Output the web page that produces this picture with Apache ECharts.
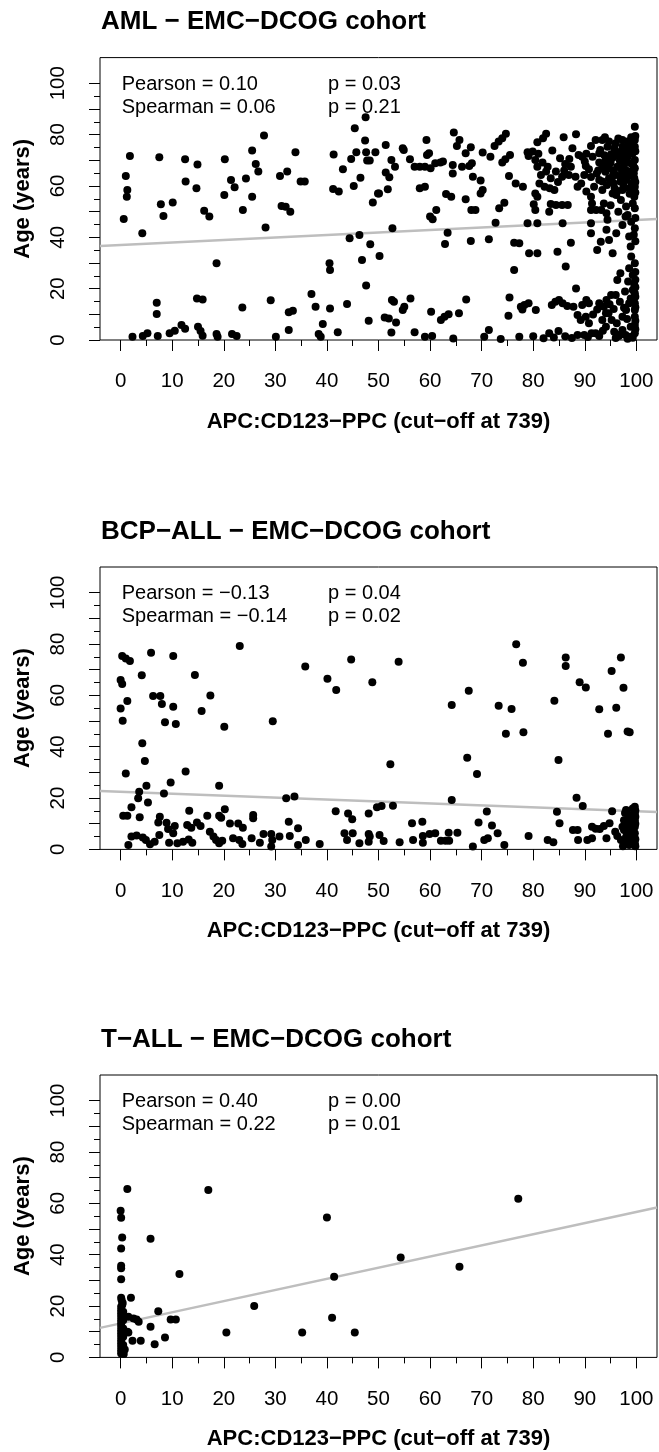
<!DOCTYPE html>
<html>
<head>
<meta charset="utf-8">
<script src="https://cdn.jsdelivr.net/npm/echarts@6/dist/echarts.min.js"></script>
<style>
html,body{margin:0;padding:0;background:#fff;}
#chart{width:659px;height:1452px;}
#log{position:absolute;left:0;top:0;font:12px monospace;white-space:pre-wrap;width:659px;color:red;}
</style>
</head>
<body>
<div id="chart"></div>
<pre id="log"></pre>
<script>
// ---------------- data ----------------
var panelTitles = ['AML \u2212 EMC\u2212DCOG cohort', 'BCP\u2212ALL \u2212 EMC\u2212DCOG cohort', 'T\u2212ALL \u2212 EMC\u2212DCOG cohort'];
var xAxisTitle = 'APC:CD123\u2212PPC (cut\u2212off at 739)';
var yAxisTitle = 'Age (years)';
var statLeft = [
  ['Pearson = 0.10', 'Spearman = 0.06'],
  ['Pearson = \u22120.13', 'Spearman = \u22120.14'],
  ['Pearson = 0.40', 'Spearman = 0.22']
];
var statRight = [
  ['p = 0.03', 'p = 0.21'],
  ['p = 0.04', 'p = 0.02'],
  ['p = 0.00', 'p = 0.01']
];
var xMajorTicks = [0,10,20,30,40,50,60,70,80,90,100];
var xMinorTicks = [5,15,25,35,45,55,65,75,85,95];
var yMajorTicks = [0,10,20,30,40,50,60,70,80,90,100];
var yMinorTicks = [5,15,25,35,45,55,65,75,85,95];
var yTickLabels = [0,20,40,60,80,100];

var amlFit = [[-4, 36.6], [104, 47.1]];
var bcpFit = [[-4, 22.7], [104, 14.6]];
var tallFit = [[-4, 11.5], [104, 58.4]];

var amlPoints = [
[1.8,71.7],[1.0,63.9],[1.3,58.4],[1.2,55.8],[0.6,47.1],[4.2,41.6],[7.5,71.2],[7.8,52.9],[8.3,48.3],[10.1,53.6],[12.5,70.4],[12.6,61.7],[14.7,59.1],[14.9,68.4],[16.2,50.3],[17.2,48.1],[20.2,70.4],[20.1,56.5],[21.4,62.3],[22.1,59.5],[23.7,50.6],[24.3,62.9],[25.5,73.8],[26.2,68.6],[26.7,65.6],[25.5,55.8],[27.8,79.7],[28.1,43.8],[30.9,63.9],[32.3,65.6],[31.2,52.2],[32.0,51.9],[32.9,50.0],[33.9,73.1],[34.9,61.7],[35.7,61.7],[41.3,72.3],[41.2,58.8],[42.3,57.8],[43.1,66.5],[44.7,70.5],[45.4,82.5],[45.7,73.1],[46.5,63.2],[47.4,77.7],[47.5,86.8],[47.6,73.1],[47.8,69.9],[48.3,69.9],[49.4,73.1],[45.2,60.0],[48.9,53.6],[49.9,57.1],
[44.4,39.6],[46.3,40.9],[48.4,37.3],[46.8,31.2],[50.2,32.7],[18.6,29.9],[40.5,29.9],[40.6,27.3],[47.6,21.2],[52.7,43.5],
[7.0,14.5],[7.0,10.1],[14.8,16.2],[15.9,15.8],[23.6,12.7],[29.1,15.5],[32.6,10.8],[33.4,11.4],[37.0,17.9],[37.8,13.0],[40.6,12.3],[43.9,14.0],[48.1,7.5],[39.2,6.2],[2.3,1.3],[4.3,1.6],[5.2,2.6],[7.2,1.6],[9.5,2.6],[10.5,3.6],[11.8,5.8],[12.5,4.4],[15.0,5.2],[15.5,3.5],[15.9,1.7],[18.6,2.3],[18.8,1.3],[21.6,2.3],[22.5,1.6],[30.1,1.3],[32.6,3.9],[38.4,2.3],[38.8,1.3],[42.1,3.0],
[64.6,80.8],[74.7,80.3],[82.5,80.3],[88.3,80.1],[99.7,83.1],[85.9,79.0],[93.9,79.0],[59.3,77.9],[74.0,78.6],[73.3,77.3],[72.5,75.6],[65.7,77.9],[65.2,75.6],[67.9,75.1],[66.9,72.7],[70.2,73.0],[71.7,71.4],[75.5,72.1],[74.6,70.4],[74.0,69.1],[80.8,77.0],[81.9,78.6],[83.7,73.8],[87.6,74.7],[91.2,75.6],[51.4,76.0],[54.7,74.7],[54.9,74.0],[56.1,70.4],[52.5,70.1],[53.2,67.5],[51.4,65.2],[52.1,63.4],[51.8,58.7],[50.1,57.1],[59.4,72.1],[59.8,72.7],[57.0,67.5],[58.0,67.5],[59.0,67.5],[60.1,66.9],[61.0,68.8],[62.0,69.1],[62.5,69.5],[64.4,68.2],[64.4,64.9],[66.2,67.5],[67.6,67.8],[68.1,68.8],[68.3,63.6],[69.8,62.1],[70.2,58.4],[69.8,57.1],[58.0,59.1],[59.0,59.7],[63.1,56.9],[64.1,55.8],[66.9,54.8],[68.0,50.6],[68.8,50.6],[61.2,50.6],[60.5,47.0],[60.0,48.1],[63.4,41.8],[62.9,37.4],[67.9,38.6],[71.4,39.2],[72.7,45.7],[73.4,51.3],[74.4,53.5],[75.3,63.9],[76.6,61.0],[78.0,59.7],[78.9,73.1],[79.9,73.4],[79.1,71.7],[80.4,70.1],[81.8,69.1],[80.8,67.5],[82.5,65.6],[81.5,64.3],[83.4,63.0],[80.4,57.1],[80.8,55.8],[80.1,52.9],[80.4,50.6],[81.2,61.0],[82.2,59.7],[83.2,59.1],[84.1,58.4],[84.4,52.6],[83.4,53.0],[83.1,50.0],[85.6,52.6],[86.7,52.6],[85.2,70.8],[86.2,68.6],[87.3,67.5],[84.4,65.6],[85.6,63.6],[86.9,64.3],[88.2,63.6],[89.9,64.3],[88.8,72.1],[89.5,71.4],[90.2,67.8],[90.8,66.5],[89.3,61.0],[90.3,57.8],[88.6,59.7],[85.7,45.5],[84.7,34.4],[86.3,28.6],[87.3,37.9],[76.3,37.9],[77.3,37.7],[79.2,33.8],[80.8,33.8],[78.9,45.5],[80.8,45.5],[76.3,27.3],[91.2,50.6],[92.2,50.6],[93.2,50.6],[91.2,45.5],[91.2,41.6],[92.4,35.1],[93.1,38.3],[93.7,53.2],[94.2,49.4],[94.4,46.8],[94.2,42.9],[94.7,39.0],[95.4,33.8],[96.1,41.6],[97.3,44.8],[97.9,48.1],[98.3,48.7],[99.0,46.1],[99.7,43.5],[98.6,40.3],[98.9,36.4],[95.4,57.1],[96.1,56.5],[97.3,58.4],[93.4,58.4],[92.8,62.3],[92.3,64.9],[91.8,59.7],[91.2,55.8],[91.4,53.2],
[93.4,77.9],[94.7,77.3],[96.0,76.6],[97.3,75.3],[98.6,74.0],[99.7,77.9],[99.7,75.3],[97.9,72.3],[96.6,71.7],[95.4,71.0],[94.1,70.1],[92.8,69.1],[93.4,67.5],[94.7,66.9],[96.3,67.5],[97.6,68.2],[98.9,68.8],[99.7,70.1],[99.7,66.9],[98.6,65.6],[97.3,64.9],[96.0,64.3],[94.7,63.0],[93.4,61.7],[94.3,60.4],[95.6,61.0],[96.9,61.7],[98.1,62.3],[99.6,63.0],[99.7,59.7],[98.6,59.1],[99.6,55.8],[99.3,53.2],[99.7,51.3],[98.3,71.4],[97.0,73.4],[95.7,74.7],[94.4,75.3],[92.8,72.7],[91.5,71.4],[92.1,77.9],[98.3,77.3],[97.3,77.9],
[95.0,69.0],[96.8,69.8],[98.0,66.0],[99.2,72.5],[99.8,61.5],[99.8,57.5],[97.5,60.0],[95.8,59.0],[94.0,65.5],[99.0,79.0],[96.5,78.5],[95.2,62.5],[97.8,70.5],[99.5,65.0],[93.0,74.0],[90.3,72.5],
[98.8,76.0],[97.8,74.8],[96.2,73.0],[95.1,72.4],[94.2,68.4],[95.6,66.0],[97.1,66.5],[98.4,63.8],[99.1,61.0],[97.0,62.8],[95.5,64.5],[96.3,58.0],[98.7,57.0],[99.4,68.0],[99.8,73.5],[99.8,79.5],[93.8,72.0],[92.6,66.0],[91.2,63.5],[90.0,69.5],[87.0,70.5],[86.0,66.0],[84.8,61.5],[82.8,67.5],[81.0,72.5],
[52.6,15.6],[53.0,14.9],[51.2,8.8],[52.0,8.4],[52.5,2.9],[53.4,6.8],[54.7,11.7],[56.2,16.2],[55.0,13.0],[57.0,3.0],[59.0,1.3],[60.4,1.6],[60.2,11.0],[62.1,7.8],[62.8,9.1],[63.6,10.0],[65.6,10.4],[67.0,15.8],[64.5,0.6],[70.5,1.3],[71.4,3.9],[73.7,0.4],[75.4,16.6],[75.2,9.4],[77.3,1.3],[77.6,13.0],[78.3,13.6],[79.1,14.3],[77.9,11.9],[80.5,11.7],[83.1,2.6],[84.9,3.5],[83.6,13.6],[84.3,14.9],[85.0,15.6],[85.7,14.3],[86.6,13.2],[88.3,20.1],[87.8,13.0],[88.6,9.7],[89.2,7.8],[89.5,13.6],[90.3,15.6],[90.8,14.3],[88.6,1.9],[89.9,1.9],[91.3,2.6],[92.1,2.6],[92.8,1.6],[92.8,14.3],[93.7,13.0],[94.2,15.6],[95.1,17.5],[96.0,17.5],[96.3,23.4],[94.6,10.4],[95.2,7.8],[96.2,6.5],[97.3,9.1],[98.0,11.7],[98.6,14.3],[98.9,16.2],[99.3,19.5],[99.6,21.4],[99.3,25.3],[98.6,27.9],[99.7,29.9],[99.7,18.2],[99.7,14.3],[99.7,11.7],[99.7,9.1],[99.7,5.8],[99.7,2.6],[98.9,1.3],[97.9,1.9],[96.6,1.6],[95.7,3.2],[97.3,3.9],[98.9,5.2],[94.1,5.2],[93.4,7.8],[94.1,10.4],[90.2,9.1],[90.8,6.5],
[96.0,0.8],[97.0,2.2],[98.3,0.5],[99.3,0.9],[99.8,4.2],[99.8,7.5],[99.8,12.8],[99.8,16.8],[99.8,20.5],[99.8,23.5],[99.8,26.5],[98.2,8.2],[97.6,12.6],[96.8,14.9],[95.6,12.1],[94.8,13.9],[93.5,3.6],[92.4,11.9],[91.6,9.9],[90.6,1.2],[87.5,0.8],[86.2,1.5],[84.0,1.0],[82.0,0.7],[80.0,1.5],[97.8,18.9],[98.4,22.8],[96.9,26.0],[99.0,32.5],[99.8,38.5],[99.8,47.5],[99.5,41.0],[98.0,52.0],[96.5,50.0],[95.0,52.5],[97.0,54.5]
];

var bcpPoints = [
[23.1,79.2],[0.3,75.3],[1.0,74.4],[1.8,73.4],[5.9,76.6],[10.2,75.3],[4.1,67.8],[14.4,67.9],[0.0,66.0],[0.3,64.4],[6.3,59.8],[7.7,59.8],[8.0,56.6],[10.2,55.6],[1.3,57.8],[0.0,54.9],[0.4,50.1],[8.6,49.5],[10.7,48.8],[17.4,59.9],[15.7,53.9],[20.1,47.8],[29.5,49.9],[4.2,41.3],[4.7,34.4],[1.0,29.6],[12.6,30.3],[9.7,26.1],[19.1,24.8],[5.0,24.8],[3.6,22.5],[3.4,19.9],[5.3,18.3],[8.4,21.8],[32.1,19.9],[33.7,20.6],[0.5,13.1],[1.3,13.1],[2.1,16.4],[3.7,12.5],[7.6,12.7],[7.3,10.5],[8.9,10.4],[9.2,7.9],[10.5,9.1],[13.3,15.1],[12.9,9.5],[13.7,8.4],[14.8,10.5],[15.5,9.1],[16.8,13.1],[19.1,13.1],[19.5,12.3],[20.2,15.6],[21.2,10.1],[22.8,10.1],[23.7,8.4],[25.7,13.4],[25.7,12.1],[32.6,10.8],[34.4,8.2],[41.7,14.9],[44.1,14.0],[44.9,11.7],[48.1,14.0],[49.7,16.4],
[2.1,5.0],[3.1,5.4],[4.3,4.6],[4.9,3.7],[1.5,1.7],[5.7,2.0],[6.6,3.0],[7.5,5.6],[9.4,2.6],[10.2,6.3],[11.0,2.4],[12.1,3.0],[13.2,3.9],[13.9,2.6],[17.3,6.9],[18.0,5.0],[18.5,3.7],[19.1,2.4],[19.7,3.4],[21.8,4.3],[23.0,3.7],[23.6,2.1],[25.4,4.3],[27.0,2.6],[27.7,6.0],[29.2,6.0],[29.4,3.7],[29.2,1.1],[30.8,5.0],[32.8,5.2],[34.4,1.7],[35.9,3.7],[38.6,2.1],[43.4,6.3],[43.9,3.7],[45.0,6.3],[46.3,2.4],[48.1,6.0],[48.1,3.0],[50.2,5.6],
[40.1,66.5],[41.8,62.1],[44.7,74.0],[35.8,71.2],
[48.8,65.1],[53.9,73.1],[52.3,33.2],[52.8,17.0],[50.6,16.9],[64.2,56.2],[67.5,61.8],[64.2,19.2],[67.2,35.7],[69.1,29.4],[73.3,56.0],[75.8,54.7],[74.7,45.0],[78.1,45.6],[76.7,79.9],[78.0,72.7],[84.1,57.9],[84.9,34.8],[86.3,74.7],[86.3,71.4],[89.0,65.1],[90.2,63.1],[92.8,54.6],[94.5,45.0],[95.2,69.5],[96.1,55.2],[97.0,74.7],[97.5,63.0],[98.3,45.9],[98.7,45.6],[88.4,20.1],[89.6,16.9],[84.6,14.7],[85.1,10.2],[71.0,14.8],[69.4,10.5],[72.0,9.3],[73.1,6.3],[70.5,3.7],[71.2,4.3],[74.4,1.7],[68.3,1.1],[79.1,5.2],[82.8,3.7],[83.9,2.8],[56.5,10.2],[58.5,10.8],[58.6,5.2],[58.6,2.6],[59.9,6.0],[61.0,6.3],[62.1,3.4],[63.0,3.4],[63.7,3.4],[63.6,6.5],[65.3,6.5],[56.7,3.7],[54.1,2.8],[51.0,3.3],[48.3,5.0],[95.3,14.9],[87.7,7.6],[88.6,7.6],[88.7,3.7],[90.5,3.7],[91.4,4.3],[91.4,8.8],[92.1,8.0],[92.9,7.9],[93.7,9.1],[94.8,10.2],[94.2,4.3],[95.9,6.9],[96.3,5.2],[97.0,3.7],
[97.6,11.4],[98.0,15.3],[98.6,13.4],[98.9,10.2],[99.3,7.6],[99.6,5.0],[99.7,2.4],[99.7,16.6],[99.7,14.0],[99.7,11.4],[99.7,8.8],[99.7,6.3],[99.3,3.7],[98.6,1.7],[97.9,2.9],[98.2,6.3],[97.6,7.6],[98.9,5.0],[97.3,8.8],[99.3,15.9],[98.9,8.3],[98.2,4.3],
[99.8,1.2],[99.8,4.0],[99.8,10.0],[99.8,12.7],[99.8,15.2],[99.4,13.0],[99.0,11.8],[98.5,9.3],[98.0,4.8],[97.4,1.2],[99.1,2.2],[98.5,12.0],[97.8,14.2]
];

var tallPoints = [
[1.3,65.6],[17.0,65.2],[0.0,57.1],[0.1,54.4],[0.3,46.7],[5.8,46.2],[0.1,42.4],[0.1,35.7],[0.1,34.7],[0.1,30.4],[11.4,32.5],[40.0,54.5],[41.4,31.4],[41.0,15.4],[25.9,20.0],[20.5,9.7],[35.2,9.7],[45.4,9.7],[77.1,61.8],[54.3,38.9],[65.7,35.3],[2.0,23.2],[0.1,23.2],[0.4,21.2],[0.1,19.7],[7.3,18.0],[9.7,14.8],[10.7,14.8],[3.1,14.8],[3.5,13.9],[1.5,15.8],[2.5,15.2],[5.8,11.9],[1.5,9.7],[2.3,6.5],[3.9,6.5],[8.6,7.8],[6.6,5.1],
[0.1,18.4],[0.1,17.1],[0.1,15.8],[0.1,14.5],[0.1,13.2],[0.1,11.9],[0.1,10.6],[0.1,9.3],[0.1,8.0],[0.1,6.7],[0.1,5.4],[0.1,4.1],[0.1,2.8],[0.1,1.5],[0.5,17.8],[0.5,14.5],[0.5,11.3],[0.5,8.0],[0.5,4.8],[0.8,3.1],[0.3,20.4],[0.2,22.3],[0.6,1.3],[1.3,10.0]
];

var pointSets = [amlPoints, bcpPoints, tallPoints];
var fitSets = [amlFit, bcpFit, tallFit];

// ---------------- layout ----------------
var FONT = '"Liberation Sans", Arial, Helvetica, sans-serif';
var gridLeft = 100, gridWidth = 557, gridHeight = 282.4;
var gridTops = [57.6, 567.0, 1075.0];

var grids = [], xAxes = [], yAxes = [], series = [], graphics = [];
for (var i = 0; i < 3; i++) {
  var gTop = gridTops[i];
  grids.push({left: gridLeft, top: gTop, width: gridWidth, height: gridHeight,
    show: true, borderColor: '#000', borderWidth: 1});
  xAxes.push({
    gridIndex: i, type: 'value', min: -4, max: 104, position: 'bottom',
    axisLine: {show: false, onZero: false}, splitLine: {show: false},
    axisTick: {show: true, customValues: xMajorTicks, length: 11, lineStyle: {color: '#000', width: 1}},
    axisLabel: {show: true, customValues: xMajorTicks, color: '#000', fontSize: 20.5, fontFamily: FONT, margin: 31}
  });
  xAxes.push({
    gridIndex: i, type: 'value', min: -4, max: 104, position: 'bottom',
    axisLine: {show: false, onZero: false}, splitLine: {show: false},
    axisTick: {show: true, customValues: xMinorTicks, length: 6, lineStyle: {color: '#000', width: 1}},
    axisLabel: {show: false}
  });
  yAxes.push({
    gridIndex: i, type: 'value', min: 0, max: 110, position: 'left',
    axisLine: {show: false, onZero: false}, splitLine: {show: false},
    axisTick: {show: true, customValues: yMajorTicks, length: 11, lineStyle: {color: '#000', width: 1}},
    axisLabel: {show: true, customValues: yTickLabels, rotate: 90, color: '#000', fontSize: 20.5, fontFamily: FONT, margin: 31, showMinLabel: true, showMaxLabel: true}
  });
  yAxes.push({
    gridIndex: i, type: 'value', min: 0, max: 110, position: 'left',
    axisLine: {show: false, onZero: false}, splitLine: {show: false},
    axisTick: {show: true, customValues: yMinorTicks, length: 6, lineStyle: {color: '#000', width: 1}},
    axisLabel: {show: false}
  });
  series.push({
    type: 'line', xAxisIndex: 2 * i, yAxisIndex: 2 * i, data: fitSets[i],
    showSymbol: false, symbol: 'none', clip: true, silent: true, z: 1,
    lineStyle: {color: '#BEBEBE', width: 2.5}
  });
  series.push({
    type: 'scatter', xAxisIndex: 2 * i, yAxisIndex: 2 * i, data: pointSets[i],
    symbol: 'circle', symbolSize: 8, clip: true, z: 2,
    itemStyle: {color: '#000', opacity: 1}
  });

  var y0 = gTop + gridHeight;
  graphics.push({type: 'text', x: 101, y: gTop - 35.3, silent: true,
    style: {text: panelTitles[i], font: 'bold 26px Arial', fill: '#000', textAlign: 'left', textVerticalAlign: 'middle'}});
  graphics.push({type: 'text', x: gridLeft + gridWidth / 2, y: y0 + 82, silent: true,
    style: {text: xAxisTitle, font: 'bold 22px Arial', fill: '#000', textAlign: 'center', textVerticalAlign: 'middle'}});
  graphics.push({type: 'text', x: 23, y: gTop + gridHeight / 2, rotation: Math.PI / 2, silent: true,
    style: {text: yAxisTitle, font: 'bold 22px Arial', fill: '#000', textAlign: 'center', textVerticalAlign: 'middle'}});
  for (var r = 0; r < 2; r++) {
    graphics.push({type: 'text', x: 121.7, y: gTop + 26.4 + r * 23, silent: true,
      style: {text: statLeft[i][r], font: '20px Arial', fill: '#000', textAlign: 'left', textVerticalAlign: 'middle'}});
    graphics.push({type: 'text', x: 328, y: gTop + 26.4 + r * 23, silent: true,
      style: {text: statRight[i][r], font: '20px Arial', fill: '#000', textAlign: 'left', textVerticalAlign: 'middle'}});
  }
}

try {
  var chart = echarts.init(document.getElementById('chart'), null, {renderer: 'canvas'});
  chart.setOption({
    animation: false,
    backgroundColor: '#fff',
    grid: grids,
    xAxis: xAxes,
    yAxis: yAxes,
    series: series,
    graphic: {elements: graphics}
  });
} catch (e) {
  document.getElementById('log').textContent = 'ERR ' + e.message + '\n' + (e.stack || '');
}
</script>
</body>
</html>
